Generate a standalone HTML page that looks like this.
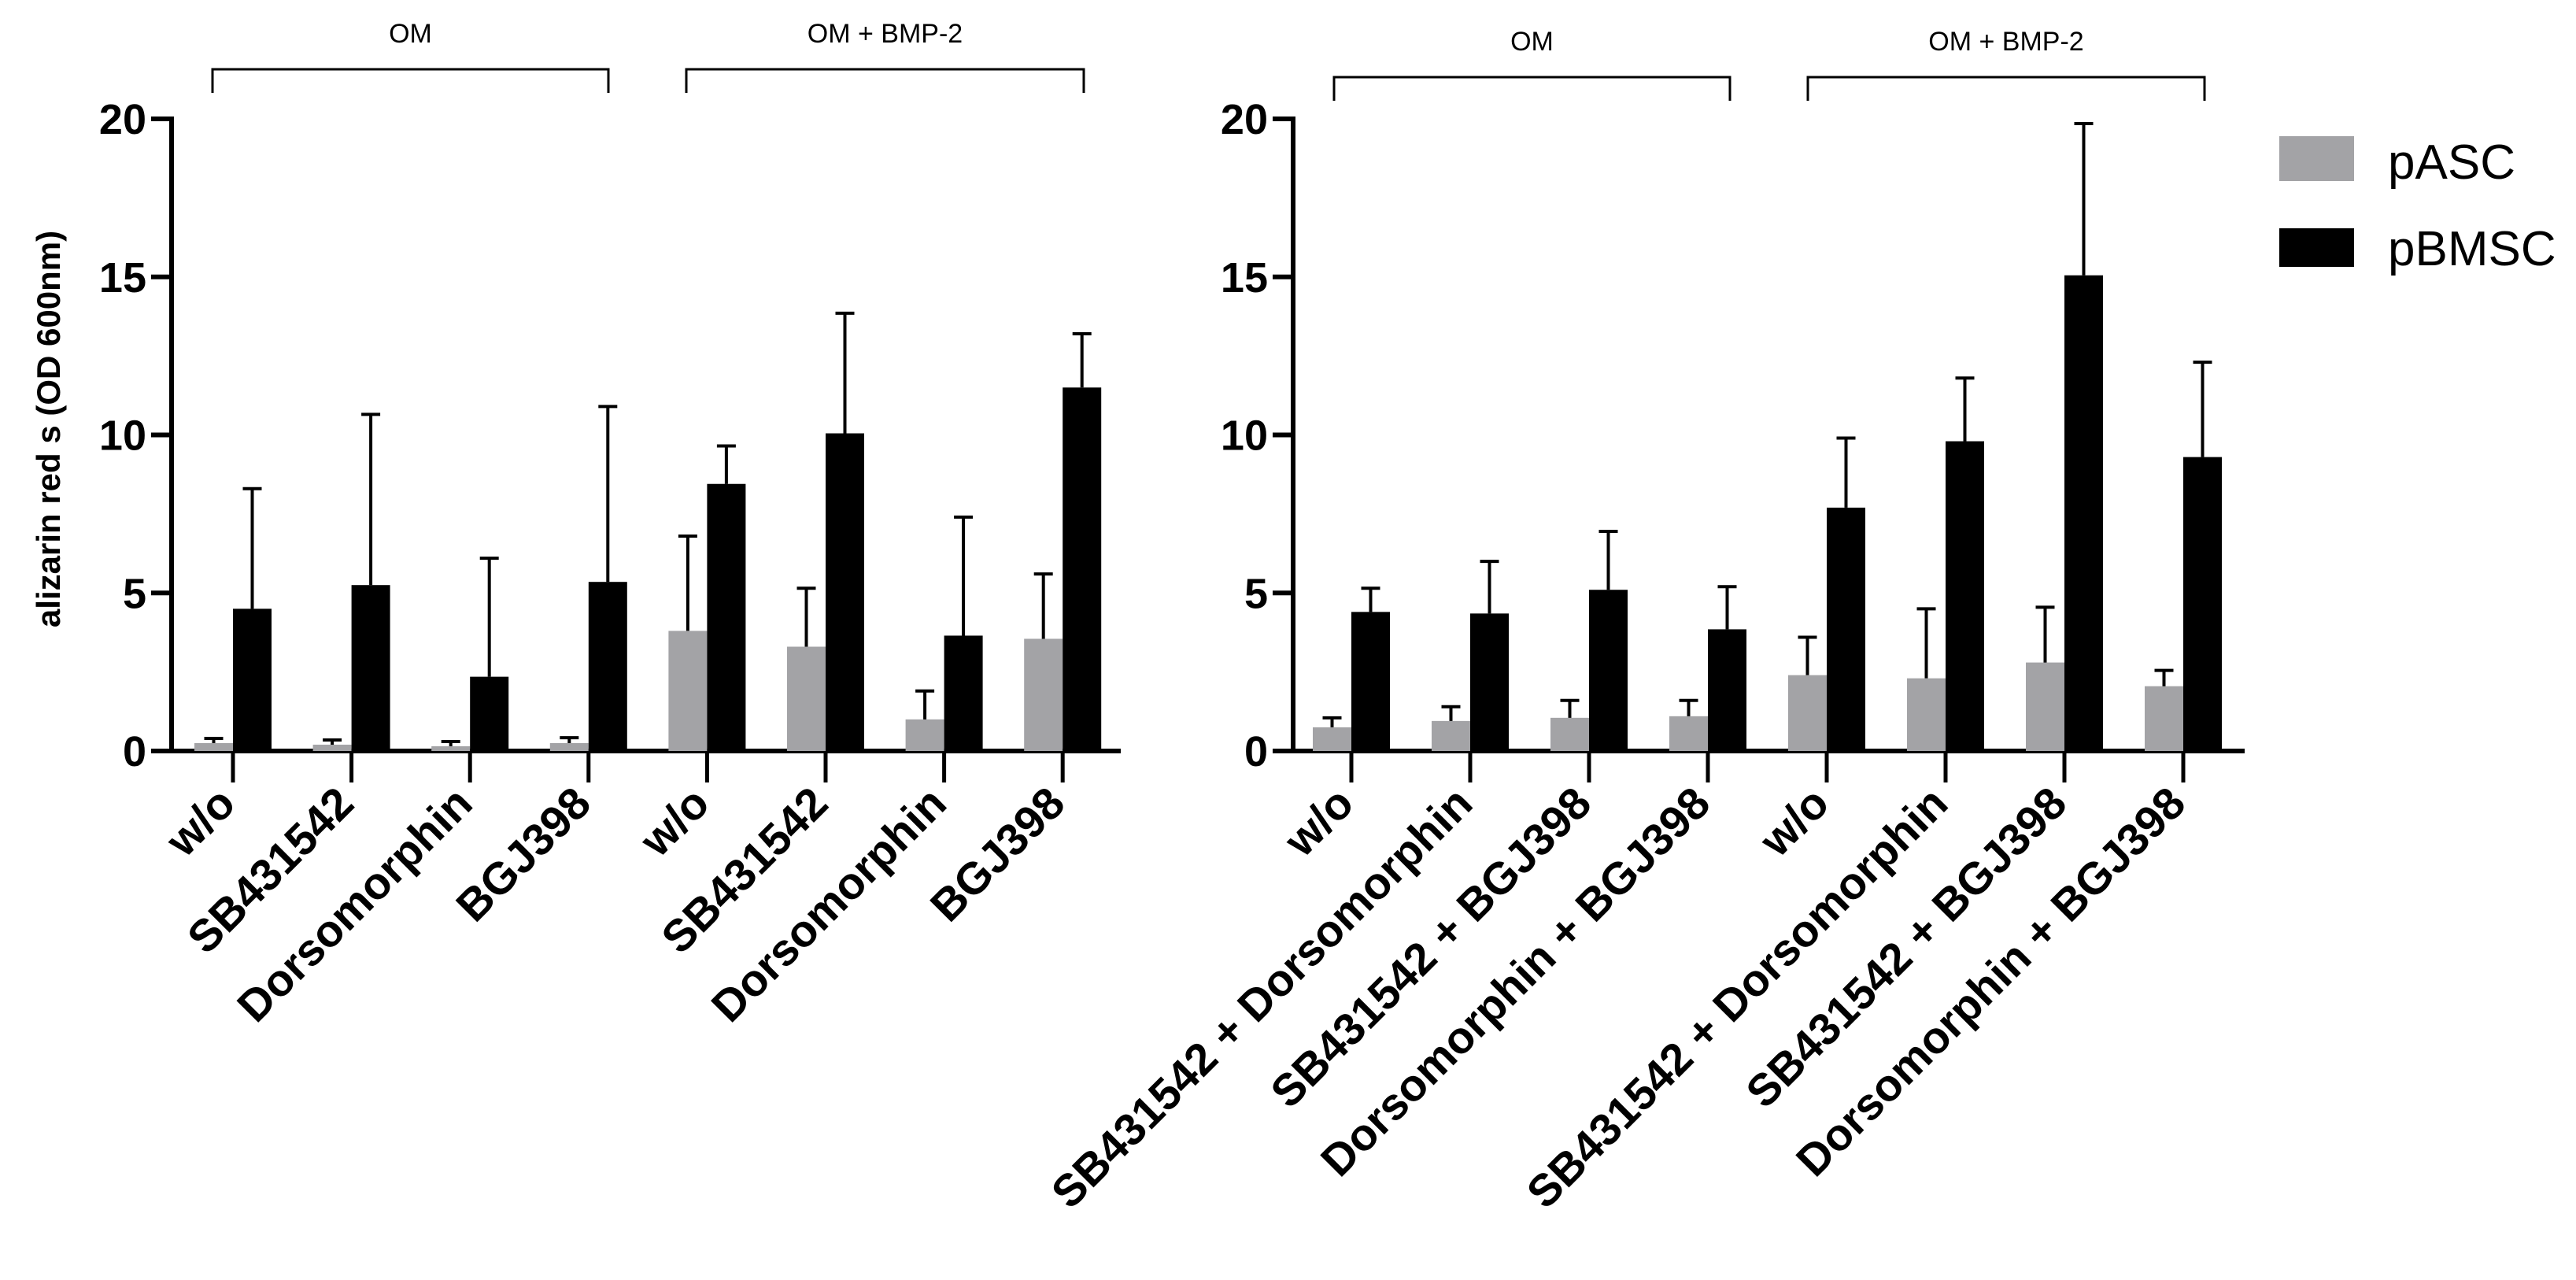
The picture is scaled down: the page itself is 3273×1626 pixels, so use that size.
<!DOCTYPE html>
<html><head><meta charset="utf-8"><style>
html,body{margin:0;padding:0;background:#fff;}
svg{display:block;font-family:"Liberation Sans",Arial,sans-serif;}
</style></head><body>
<svg id="chart" width="3273" height="1626" viewBox="0 0 3273 1626" xmlns="http://www.w3.org/2000/svg"></svg>
<script>
const categoriesLeft = ["w/o","SB431542","Dorsomorphin","BGJ398","w/o","SB431542","Dorsomorphin","BGJ398"];
const categoriesRight = ["w/o","SB431542 + Dorsomorphin","SB431542 + BGJ398","Dorsomorphin + BGJ398","w/o","SB431542 + Dorsomorphin","SB431542 + BGJ398","Dorsomorphin + BGJ398"];
const pascLeft = [0.25,0.2,0.15,0.25,3.8,3.3,1.0,3.55];
const pascLeftErr = [0.4,0.35,0.3,0.42,6.8,5.15,1.9,5.6];
const pbmscLeft = [4.5,5.25,2.35,5.35,8.45,10.05,3.65,11.5];
const pbmscLeftErr = [8.3,10.65,6.1,10.9,9.65,13.85,7.4,13.2];
const pascRight = [0.75,0.95,1.05,1.1,2.4,2.3,2.8,2.05];
const pascRightErr = [1.05,1.4,1.6,1.6,3.6,4.5,4.55,2.55];
const pbmscRight = [4.4,4.35,5.1,3.85,7.7,9.8,15.05,9.3];
const pbmscRightErr = [5.15,6.0,6.95,5.2,9.9,11.8,19.85,12.3];
const yTicks = [0,5,10,15,20];
const seriesNames = ["pASC","pBMSC"];
const groupLabels = ["OM","OM + BMP-2"];

const NS="http://www.w3.org/2000/svg";
const svg=document.getElementById('chart');
function mk(tag,attrs,parent){const e=document.createElementNS(NS,tag);for(const k in attrs)e.setAttribute(k,attrs[k]);(parent||svg).appendChild(e);return e;}
const Y0=954, Y20=151;
function y(v){return Y0-(v/20)*(Y0-Y20);}

function panel(p){
  const g=mk('g',{});
  
  
  const ya=mk('line',{x1:p.ax,y1:Y20-3,x2:p.ax,y2:Y0+3,stroke:'#000','stroke-width':6},g);
  
  
  const xa=mk('line',{x1:p.ax-3,y1:Y0,x2:p.axEnd,y2:Y0,stroke:'#000','stroke-width':6},g);
  
  
  yTicks.forEach(t=>{
    const tk=mk('line',{x1:p.ax-26,y1:y(t),x2:p.ax,y2:y(t),stroke:'#000','stroke-width':6},g);
    
    
    const tl=mk('text',{x:p.ax-32,y:y(t)+19,'text-anchor':'end','font-size':54,'font-weight':'bold'},g);
    tl.textContent=t;
    
    
  });
  p.cats.forEach((c,i)=>{
    const cx=p.t0+i*p.sp;
    const tk=mk('line',{x1:cx,y1:Y0,x2:cx,y2:Y0+40,stroke:'#000','stroke-width':5},g);
    
    
    const bw=49;
    const gb=mk('rect',{x:cx-bw,y:y(p.a[i]),width:bw,height:Y0-y(p.a[i]),fill:'#a3a3a6'},g);
    
    
    const bb=mk('rect',{x:cx,y:y(p.b[i]),width:bw,height:Y0-y(p.b[i]),fill:'#000'},g);
    
    
    [[cx-bw/2,p.a[i],p.ae[i]],[cx+bw/2,p.b[i],p.be[i]]].forEach(([ex,v,e])=>{
      const el=mk('path',{d:`M${ex},${y(v)}V${y(e)}M${ex-12},${y(e)}H${ex+12}`,stroke:'#000','stroke-width':4,fill:'none'},g);
      
      
    });
    const lx=cx+6, ly=Y0+70;
    const lab=mk('text',{x:lx,y:ly,'text-anchor':'end','font-size':57,'font-weight':'bold',transform:`rotate(-45 ${lx} ${ly})`},g);
    lab.textContent=c;
    
    
  });
  p.brackets.forEach((b,k)=>{
    const br=mk('path',{d:`M${b[0]},${b[2]+30}V${b[2]}H${b[1]}V${b[2]+30}`,stroke:'#000','stroke-width':3,fill:'none'},g);
    
    
    const bl=mk('text',{x:(b[0]+b[1])/2,y:b[2]-34,'text-anchor':'middle','font-size':34},g);
    bl.textContent=groupLabels[k];
    
    
  });
}
panel({name:'left-panel',ax:218,axEnd:1424,t0:296,sp:150.6,cats:categoriesLeft,a:pascLeft,ae:pascLeftErr,b:pbmscLeft,be:pbmscLeftErr,brackets:[[270,773,88],[872,1377,88]]});
panel({name:'right-panel',ax:1643,axEnd:2852,t0:1717,sp:151,cats:categoriesRight,a:pascRight,ae:pascRightErr,b:pbmscRight,be:pbmscRightErr,brackets:[[1695,2198,98],[2297,2801,98]]});

const yl=mk('text',{x:0,y:0,'text-anchor':'middle','font-size':42,'font-weight':'bold',transform:'translate(76 545) rotate(-90)'});
yl.textContent='alizarin red s (OD 600nm)';



[['#a3a3a6',173,227],['#000',290,337]].forEach(([col,ty,by],i)=>{
  const lg=mk('g',{});
  
  
  const sw=mk('rect',{x:2896,y:ty,width:95,height:i?49:57,fill:col},lg);
  
  
  const lt=mk('text',{x:3034,y:by,'font-size':62},lg);
  lt.textContent=seriesNames[i];
  
  
});
</script>
</body></html>
